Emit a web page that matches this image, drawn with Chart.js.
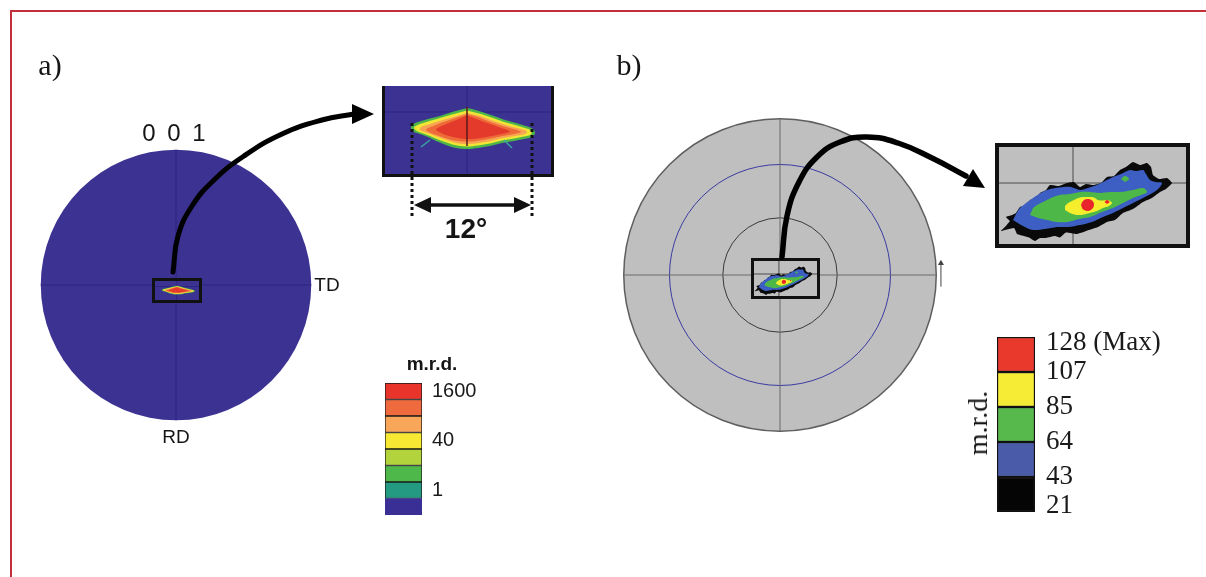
<!DOCTYPE html>
<html>
<head>
<meta charset="utf-8">
<script src="https://cdn.jsdelivr.net/npm/chart.js@4.4.0/dist/chart.umd.min.js"></script>
<style>
html,body{margin:0;padding:0;background:#fff;width:1206px;height:577px;overflow:hidden;position:relative;}
canvas{display:block;}
.txt{position:absolute;transform:translate(-50%,-50%);line-height:1;white-space:nowrap;color:#151515;}
</style>
</head>
<body>
<div style="position:absolute;left:10px;top:10px;width:1300px;height:700px;border-left:2px solid #c3303b;border-top:2px solid #c3303b;"></div>
<script>
// ================= DATA =================
// a) {001} pole figure – central peak contours, degrees from the pole centre (x: TD, y: RD)
const peakA_L1 = [[0,0.4],[-1.5,0],[-2.7,-0.4],[-3.9,-0.7],[-4.9,-1.0],[-5.5,-1.3],[-5.6,-1.7],[-5.3,-2.0],[-4.7,-2.2],[-3.9,-2.5],[-3.1,-2.9],[-2.1,-3.3],[-1.1,-3.6],[0,-3.7],[1.1,-3.6],[2.3,-3.4],[3.5,-3.1],[4.7,-2.9],[5.7,-2.7],[6.5,-2.5],[6.8,-2.1],[6.6,-1.7],[5.9,-1.4],[4.9,-1.1],[3.8,-0.8],[2.7,-0.4],[1.5,0],[0.5,0.3]];
const peakA_L2 = [[0,0.15],[-1.5,-0.25],[-2.7,-0.6],[-3.9,-0.95],[-4.8,-1.25],[-5.3,-1.55],[-5.1,-1.85],[-4.5,-2.1],[-3.7,-2.4],[-2.9,-2.75],[-1.9,-3.1],[-1.0,-3.35],[0,-3.45],[1.1,-3.35],[2.3,-3.15],[3.5,-2.85],[4.7,-2.65],[5.7,-2.45],[6.4,-2.25],[6.4,-1.85],[5.8,-1.6],[4.8,-1.3],[3.7,-1.0],[2.6,-0.6],[1.4,-0.2]];
const peakA_L3 = [[0,-0.1],[-1.4,-0.5],[-2.6,-0.85],[-3.7,-1.2],[-4.6,-1.5],[-4.7,-1.8],[-4.1,-2.05],[-3.3,-2.35],[-2.5,-2.65],[-1.6,-2.95],[-0.8,-3.15],[0.2,-3.2],[1.2,-3.1],[2.4,-2.9],[3.6,-2.6],[4.8,-2.4],[5.8,-2.2],[6.0,-1.95],[5.4,-1.7],[4.4,-1.45],[3.4,-1.15],[2.4,-0.8],[1.3,-0.4]];
const peakA_L4 = [[0,-0.2],[-1.3,-0.65],[-2.5,-1.05],[-3.5,-1.45],[-4.1,-1.75],[-3.6,-2.1],[-2.8,-2.4],[-1.9,-2.7],[-0.9,-2.9],[0.2,-2.95],[1.3,-2.85],[2.4,-2.65],[3.6,-2.4],[4.7,-2.2],[5.4,-2.0],[5.0,-1.8],[4.1,-1.55],[3.1,-1.25],[2.1,-0.9],[1.1,-0.5]];
const peakA_L5 = [[0,-0.35],[-1.2,-0.85],[-2.3,-1.3],[-3.1,-1.75],[-2.5,-2.15],[-1.6,-2.45],[-0.6,-2.65],[0.4,-2.7],[1.4,-2.6],[2.5,-2.4],[3.5,-2.2],[4.3,-1.95],[3.6,-1.65],[2.6,-1.3],[1.6,-0.95],[0.7,-0.6]];
const peakA_streaks = [[[-3.7,-2.8],[-4.6,-3.5]],[[3.7,-2.8],[4.5,-3.6]]];
const peakA_ridge = [[0,0.5],[0,-3.4]];
const spreadA = [-5.5, 6.5];               // 12° spread marked under the zoom
const viewA = {x:[-8.5, 8.7], y:[-6.5, 2.6]};  // zoom window (degrees)

// b) pole figure – contours in the zoom window (degrees)
const peakB_black = [[-13.6,-8.8],[-14.4,-9.6],[-11.8,-9.0],[-11.2,-10.2],[-10.6,-10.4],[-8.8,-10.9],[-7.6,-11.6],[-6.6,-11.0],[-5.4,-11.0],[-3.6,-10.6],[-2.6,-10.9],[-1.4,-9.9],[0.8,-10.2],[3.2,-9.4],[5.0,-8.8],[6.8,-7.8],[8.4,-7.4],[10.0,-6.0],[12.0,-5.2],[14.0,-3.8],[15.8,-3.0],[17.4,-1.8],[18.6,-1.2],[19.8,0.0],[18.8,1.0],[17.2,0.8],[16.0,1.6],[15.6,3.2],[14.8,4.0],[13.4,3.6],[12.0,4.2],[10.6,3.2],[9.4,2.6],[8.2,1.4],[6.8,1.2],[5.6,0.0],[4.0,-0.4],[2.6,-0.2],[1.4,-0.8],[0.2,0.2],[-1.2,0.0],[-2.8,-0.6],[-4.6,-0.4],[-5.4,-1.4],[-6.6,-2.0],[-7.4,-3.2],[-8.6,-3.4],[-9.4,-4.6],[-10.6,-4.8],[-11.4,-6.0],[-12.2,-6.4],[-13.4,-6.8],[-12.6,-7.6]];
const peakB_blue = [[-12.0,-7.4],[-10.0,-8.6],[-8.0,-9.4],[-5.6,-9.2],[-3.2,-8.8],[-1.0,-8.8],[1.4,-8.4],[3.8,-7.8],[6.0,-6.8],[8.0,-6.0],[10.0,-5.0],[12.0,-4.0],[14.0,-3.0],[16.8,-1.4],[17.8,0.0],[16.6,0.2],[15.4,0.6],[14.6,1.8],[14.0,2.6],[12.6,2.4],[11.4,2.6],[9.6,1.8],[8.0,1.2],[6.4,0.4],[4.8,-0.4],[3.0,-1.0],[1.4,-1.4],[-0.4,-0.8],[-2.0,-0.8],[-3.6,-1.0],[-5.2,-1.4],[-6.8,-2.2],[-8.0,-3.0],[-9.4,-4.0],[-10.6,-5.0],[-11.4,-6.2]];
const peakB_green = [[-8.6,-6.4],[-7.0,-7.0],[-5.2,-7.4],[-3.2,-7.8],[-1.2,-7.8],[1.2,-7.2],[3.4,-6.8],[5.8,-5.8],[8.0,-5.0],[10.0,-4.0],[12.0,-3.0],[13.6,-2.4],[14.8,-1.8],[14.0,-1.0],[12.0,-1.4],[9.4,-1.8],[7.4,-1.8],[5.4,-2.0],[3.4,-1.8],[1.4,-1.8],[-0.6,-2.2],[-2.6,-2.4],[-4.4,-3.0],[-6.0,-3.8],[-7.2,-4.4],[-8.0,-5.0]];
const peakB_greenSpot = [[9.6,0.8],[10.4,1.4],[11.2,0.8],[10.4,0.2]];
const peakB_yellow = [[-1.6,-5.4],[-0.6,-6.0],[0.8,-6.4],[2.2,-6.3],[3.4,-6.0],[4.8,-5.6],[6.0,-5.0],[7.2,-4.6],[7.8,-4.0],[7.0,-3.4],[6.0,-3.5],[5.0,-3.4],[4.2,-2.9],[3.4,-2.8],[2.2,-2.8],[1.0,-3.0],[0.0,-3.5],[-1.0,-4.0],[-1.6,-4.6]];
const peakB_red = [[1.6,-4.4],[2.0,-3.6],[2.8,-3.2],[3.8,-3.5],[4.2,-4.3],[3.8,-5.2],[2.8,-5.6],[1.9,-5.2]];
const peakB_redSpot = [[6.3,-3.8],[6.8,-3.4],[7.3,-3.8],[6.8,-4.2]];
const viewB = {x:[-14.8, 22.6], y:[-12.2, 7.2]};
const ringTiltsB = [30, 60];               // tilt circles of the pole figure (degrees)
const tdArrowB = [[1.03,-0.075],[1.03,0.075]];

// colour bars (m.r.d.)
const mrdA_segments = [1,1,1,1,1,1,1,1];
const mrdA_tickText = ['1','40','1600'];
const mrdA_tickAt = [1.5, 4.5, 7.5];
const mrdB_segments = [1,1,1,1,1];
const mrdB_tickText = ['21','43','64','85','107','128 (Max)'];
const mrdB_tickAt = [0,1,2,3,4,5];

// zoom call-out arrows (figure coordinates)
const arrowA_path = [[173,272],[178,236],[192,206],[214,180],[244,156],[282,134],[322,120],[354,114]];
const arrowA_head = [[374,114],[352,104],[352,124]];
const arrowB_path = [[782,257],[787,216],[799,182],[817,157],[840,142],[867,137],[898,143],[932,158],[966,176]];
const arrowB_head = [[985,188],[963,186],[973,169]];

// ================= STYLE =================
const S = {
  purple:'#3c3292', purpleLine:'#2c257f',
  peakA:['#4cb649','#f1e634','#f7a553','#ee6b38','#e43a2c'],
  streak:'#3aa7a0', ridge:'#5a1a1a',
  grey:'#bfbfbf', greyEdge:'#5e5e5e', greyLine:'#6a6a6a', rings:['#3a3a3a','#3b3ba4'],
  peakB:['#0a0a0a','#3d5fc4','#4db748','#f5ee2c','#e8262b'],
  mrdA:['#3a2f95','#259a82','#4fb84a','#b2d33c','#f6e833','#f8a75a','#ef6a3c','#e8342b'],
  mrdB:['#050505','#4a5ca9','#57b84c','#f6ec36','#e8392c']
};

// ================= HELPERS =================
function place(left, top, w, h, css){
  const d = document.createElement('div');
  d.style.cssText = 'position:absolute;left:'+left+'px;top:'+top+'px;width:'+w+'px;height:'+h+'px;'+(css||'');
  const c = document.createElement('canvas');
  c.width = w; c.height = h; c.style.width = w+'px'; c.style.height = h+'px';
  d.appendChild(c); document.body.appendChild(d);
  return c;
}
function opts(xr, yr, extra, yRev){
  const o = {
    responsive:false, maintainAspectRatio:false, animation:false, events:[],
    layout:{padding:0},
    plugins:{legend:{display:false}, tooltip:{enabled:false}},
    scales:{
      x:{type:'linear', display:false, min:xr[0], max:xr[1]},
      y:{type:'linear', display:false, min:yr[0], max:yr[1], reverse:!!yRev}
    }
  };
  if (extra) Object.keys(extra).forEach(k => { o.plugins[k] = extra[k]; });
  return o;
}
const pts = a => a.map(p => ({x:p[0], y:p[1]}));
function poly(a, color, order, tension){
  return {data:pts(a), showLine:true, fill:'shape', backgroundColor:color, borderColor:color,
          borderWidth:0, pointRadius:0, tension:(tension===undefined?0.35:tension), order:order};
}
function line(a, color, width, order, dash){
  return {data:pts(a), showLine:true, fill:false, borderColor:color, backgroundColor:color,
          borderWidth:width, pointRadius:0, tension:0, borderDash:dash||[], order:order};
}
function curve(a, color, width, order){
  return {data:pts(a), showLine:true, fill:false, borderColor:color, borderWidth:width,
          pointRadius:0, tension:0.45, borderCapStyle:'round', order:order};
}

// pole-figure disc (equal-area projection) drawn from the chart's own scales
const discPlugin = {
  id:'disc',
  beforeDatasetsDraw(chart, args, o){
    if (!o || !o.fill) return;
    const ctx = chart.ctx, x = chart.scales.x, y = chart.scales.y;
    const cx = x.getPixelForValue(0), cy = y.getPixelForValue(0);
    const r = x.getPixelForValue(1) - cx;
    ctx.save();
    ctx.beginPath(); ctx.arc(cx, cy, r, 0, Math.PI*2);
    ctx.fillStyle = o.fill; ctx.fill();
    if (o.edge){ ctx.lineWidth = o.edgeWidth || 1; ctx.strokeStyle = o.edge; ctx.stroke(); }
    (o.rings || []).forEach((t, i) => {
      const rr = Math.SQRT2 * Math.sin(t*Math.PI/360) * r;
      ctx.beginPath(); ctx.arc(cx, cy, rr, 0, Math.PI*2);
      ctx.lineWidth = 1; ctx.strokeStyle = o.ringColors[i]; ctx.stroke();
    });
    ctx.restore();
  }
};
// colour-bar labels placed with the bar chart's value scale
const sideLabels = {
  id:'sideLabels',
  afterDraw(chart, args, o){
    if (!o || !o.texts) return;
    const ctx = chart.ctx, y = chart.scales.y, ca = chart.chartArea;
    ctx.save();
    ctx.font = o.font; ctx.fillStyle = o.color; ctx.textAlign = 'left'; ctx.textBaseline = 'middle';
    o.texts.forEach((t, i) => {
      const v = o.at[i];
      let py = y.getPixelForValue(v);
      if (o.edgeInset){ if (v === y.max) py += o.edgeInset; if (v === y.min) py -= o.edgeInset; }
      ctx.fillText(t, ca.right + o.gap, py);
    });
    ctx.restore();
  }
};

// ================= a) POLE FIGURE =================
new Chart(place(34, 143, 284, 284), {
  type:'scatter',
  data:{datasets:[
    line([[-1,0],[1,0]], S.purpleLine, 1, 1),
    line([[0,-1],[0,1]], S.purpleLine, 1, 1)
  ]},
  options:opts([-1.05,1.05],[-1.05,1.05],{disc:{fill:S.purple}}),
  plugins:[discPlugin]
});

function peakADatasets(withRidge){
  const ds = [
    poly(peakA_L1, S.peakA[0], 50), poly(peakA_L2, S.peakA[1], 49), poly(peakA_L3, S.peakA[2], 48),
    poly(peakA_L4, S.peakA[3], 47), poly(peakA_L5, S.peakA[4], 46),
    line([[viewA.x[0],0],[viewA.x[1],0]], S.purpleLine, 1, 60),
    line([[0,viewA.y[0]],[0,viewA.y[1]]], S.purpleLine, 1, 60)
  ];
  if (withRidge){
    peakA_streaks.forEach(s => ds.push(line(s, S.streak, 1.5, 45)));
    ds.push(line(peakA_ridge, S.ridge, 1.5, 40));
  }
  return ds;
}
// thumbnail of the zoom window on the pole figure
new Chart(place(152, 278, 44, 19, 'border:3px solid #111;background:'+S.purple+';'), {
  type:'scatter',
  data:{datasets:peakADatasets(false)},
  options:opts([-8.2, 8.4],[-6.2, 2.6])
});

// zoomed window a) with 12° spread annotation
(function(){
  const ds = peakADatasets(true);
  ds.push(poly([[viewA.x[0],viewA.y[0]],[viewA.x[1],viewA.y[0]],[viewA.x[1],viewA.y[1]],[viewA.x[0],viewA.y[1]]], S.purple, 99, 0));
  ds.push(line([[viewA.x[0]+0.15,viewA.y[1]],[viewA.x[0]+0.15,viewA.y[0]+0.15],[viewA.x[1]-0.15,viewA.y[0]+0.15],[viewA.x[1]-0.15,viewA.y[1]]], '#111', 3, 10));
  ds.push(line([[spreadA[0],-1.1],[spreadA[0],-10.6]], '#111', 3, 5, [3,3]));
  ds.push(line([[spreadA[1],-1.1],[spreadA[1],-10.6]], '#111', 3, 5, [3,3]));
  ds.push(line([[spreadA[0]+1.2,-9.3],[spreadA[1]-1.2,-9.3]], '#111', 3.5, 5));
  ds.push(poly([[spreadA[0]+0.2,-9.3],[spreadA[0]+1.9,-8.5],[spreadA[0]+1.9,-10.1]], '#111', 4, 0));
  ds.push(poly([[spreadA[1]-0.1,-9.3],[spreadA[1]-1.8,-8.5],[spreadA[1]-1.8,-10.1]], '#111', 4, 0));
  new Chart(place(380, 84, 176, 154), {
    type:'scatter', data:{datasets:ds}, options:opts([-8.7, 8.9],[-12.6, 2.8])
  });
})();

// colour bar a)
new Chart(place(385, 383, 110, 132), {
  type:'bar',
  data:{labels:[''], datasets:mrdA_segments.map((v,i) => ({
    data:[v], backgroundColor:S.mrdA[i], borderColor:'#1a1a1a', borderWidth:(i===0?0:1),
    borderSkipped:false, barPercentage:1, categoryPercentage:1
  }))},
  options:{
    responsive:false, maintainAspectRatio:false, animation:false, events:[],
    layout:{padding:{right:73}},
    plugins:{legend:{display:false}, tooltip:{enabled:false},
      sideLabels:{texts:mrdA_tickText, at:mrdA_tickAt, font:'20px "Liberation Sans", Arial, sans-serif', color:'#1a1a1a', gap:10}},
    scales:{x:{stacked:true, display:false}, y:{stacked:true, display:false, min:0, max:8}}
  },
  plugins:[sideLabels]
});

// ================= b) POLE FIGURE =================
new Chart(place(601, 96, 358, 358), {
  type:'scatter',
  data:{datasets:[
    line([[-1,0],[1,0]], S.greyLine, 1, 1),
    line([[0,-1],[0,1]], S.greyLine, 1, 1),
    {data:pts(tdArrowB), showLine:true, borderColor:'#444', backgroundColor:'#444', borderWidth:1,
     pointStyle:'triangle', pointRadius:[0,3.5], pointBorderWidth:0, order:1}
  ]},
  options:opts([-1.12,1.12],[-1.12,1.12],{disc:{fill:S.grey, edge:S.greyEdge, edgeWidth:1.5, rings:ringTiltsB, ringColors:S.rings}}),
  plugins:[discPlugin]
});

function peakBDatasets(){
  return [
    poly(peakB_black, S.peakB[0], 50, 0.15), poly(peakB_blue, S.peakB[1], 49, 0.3),
    poly(peakB_green, S.peakB[2], 48, 0.35), poly(peakB_greenSpot, S.peakB[2], 48, 0.4),
    poly(peakB_yellow, S.peakB[3], 47, 0.35), poly(peakB_red, S.peakB[4], 46, 0.4),
    poly(peakB_redSpot, S.peakB[4], 46, 0.4),
    line([[viewB.x[0],0],[viewB.x[1],0]], '#4a4a4a', 1, 60),
    line([[0,viewB.y[0]],[0,viewB.y[1]]], '#4a4a4a', 1, 60)
  ];
}
new Chart(place(751, 258, 63, 35, 'border:3px solid #111;background:'+S.grey+';'), {
  type:'scatter', data:{datasets:peakBDatasets()}, options:opts(viewB.x, viewB.y)
});
new Chart(place(995, 143, 187, 97, 'border:4px solid #111;background:'+S.grey+';'), {
  type:'scatter', data:{datasets:peakBDatasets()}, options:opts(viewB.x, viewB.y)
});

// colour bar b)
new Chart(place(997, 327, 190, 195), {
  type:'bar',
  data:{labels:[''], datasets:mrdB_segments.map((v,i) => ({
    data:[v], backgroundColor:S.mrdB[i], borderColor:'#111', borderWidth:1.5,
    borderSkipped:false, barPercentage:1, categoryPercentage:1
  }))},
  options:{
    responsive:false, maintainAspectRatio:false, animation:false, events:[],
    layout:{padding:{right:152, top:10, bottom:10}},
    plugins:{legend:{display:false}, tooltip:{enabled:false},
      sideLabels:{texts:mrdB_tickText, at:mrdB_tickAt, font:'27px "Liberation Serif", "Times New Roman", serif', color:'#1a1a1a', gap:11, edgeInset:6}},
    scales:{x:{stacked:true, display:false}, y:{stacked:true, display:false, min:0, max:5}}
  },
  plugins:[sideLabels]
});

// ================= CALL-OUT ARROWS =================
const ov = place(0, 0, 1206, 577, 'pointer-events:none;');
new Chart(ov, {
  type:'scatter',
  data:{datasets:[
    curve(arrowA_path, '#000', 5, 2), poly(arrowA_head, '#000', 1, 0),
    curve(arrowB_path, '#000', 5.5, 2), poly(arrowB_head, '#000', 1, 0)
  ]},
  options:opts([0,1206],[0,577],null,true)
});
</script>

<div class="txt" style="left:50px;top:65px;font:30px 'Liberation Serif','Times New Roman',serif;">a)</div>
<div class="txt" style="left:629px;top:65px;font:30px 'Liberation Serif','Times New Roman',serif;">b)</div>
<div class="txt" style="left:174px;top:133px;font:24px 'Liberation Sans',Arial,sans-serif;word-spacing:5px;">0 0 1</div>
<div class="txt" style="left:327px;top:285px;font:19px 'Liberation Sans',Arial,sans-serif;">TD</div>
<div class="txt" style="left:176px;top:437px;font:19px 'Liberation Sans',Arial,sans-serif;">RD</div>
<div class="txt" style="left:432px;top:364px;font:bold 19px 'Liberation Sans',Arial,sans-serif;">m.r.d.</div>
<div class="txt" style="left:466px;top:229px;font:bold 28px 'Liberation Sans',Arial,sans-serif;">12°</div>
<div class="txt" style="left:978px;top:423px;font:28px 'Liberation Serif','Times New Roman',serif;transform:translate(-50%,-50%) rotate(-90deg);">m.r.d.</div>
</body>
</html>
